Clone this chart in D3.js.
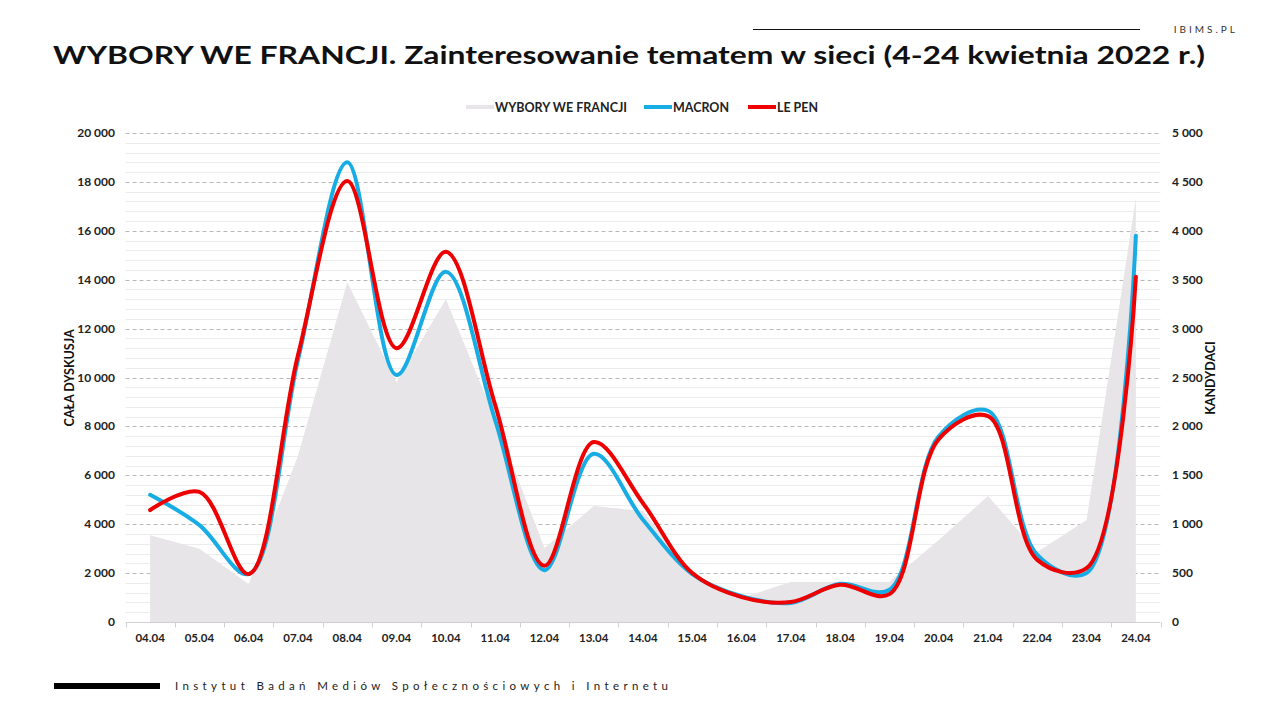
<!DOCTYPE html>
<html><head><meta charset="utf-8">
<script src="https://cdn.jsdelivr.net/npm/d3@7"></script>
<style>
body{margin:0;background:#fff;}
svg{display:block;font-family:Lato, "Open Sans", sans-serif;}
</style></head>
<body>
<svg id="c" width="1280" height="720"></svg>
<script>
const categories = ["04.04","05.04","06.04","07.04","08.04","09.04","10.04","11.04","12.04","13.04","14.04","15.04","16.04","17.04","18.04","19.04","20.04","21.04","22.04","23.04","24.04"];
const wyboryValues = [3550,3000,1550,6800,13900,9800,13200,8300,3030,4740,4540,1960,980,1640,1640,1640,3350,5150,2860,4170,17340];
const macronValues = [1300,990,490,2680,4700,2525,3580,2065,530,1720,1045,490,265,195,390,330,1900,2160,685,500,3950];
const lepenValues = [1145,1330,490,2730,4510,2800,3785,2220,575,1840,1215,500,255,205,380,285,1870,2105,635,550,3530];
const leftTicks = [0,2000,4000,6000,8000,10000,12000,14000,16000,18000,20000];
const rightTicks = [0,500,1000,1500,2000,2500,3000,3500,4000,4500,5000];

const svg = d3.select("#c");
const L = 125.5, R = 1160.5, T = 133, B = 622;
const x = d3.scaleBand().domain(categories).range([L, R]);
const yL = d3.scaleLinear().domain([0,20000]).range([B, T]);
const yR = d3.scaleLinear().domain([0,5000]).range([B, T]);
const cx = d => x(d) + x.bandwidth()/2;
const fmt = v => d3.format(",")(v).replace(/,/g, "\u00a0");

// header
svg.append("line").attr("x1",753).attr("x2",1140).attr("y1",29.5).attr("y2",29.5).attr("stroke","#111").attr("stroke-width",1);
svg.append("text").attr("x",1238).attr("y",33).attr("text-anchor","end").attr("font-size",10).attr("letter-spacing","3px").attr("fill","#333").text("IBIMS.PL");
svg.append("text").attr("x",53).attr("y",64).attr("font-size",25).attr("font-weight",700).attr("fill","#111")
  .attr("textLength",1152).attr("lengthAdjust","spacingAndGlyphs")
  .text("WYBORY WE FRANCJI. Zainteresowanie tematem w sieci (4-24 kwietnia 2022 r.)");

// gridlines
const minor = d3.range(0, 20001, 400).filter(v => v % 2000 !== 0);
svg.append("g").selectAll("line").data(minor).join("line")
  .attr("x1",L).attr("x2",R).attr("y1",d=>Math.round(yL(d))+0.5).attr("y2",d=>Math.round(yL(d))+0.5)
  .attr("stroke","#ececec").attr("stroke-width",1);
svg.append("g").selectAll("line").data(leftTicks.slice(1)).join("line")
  .attr("x1",L).attr("x2",R).attr("y1",d=>Math.round(yL(d))+0.5).attr("y2",d=>Math.round(yL(d))+0.5)
  .attr("stroke","#b8b8b8").attr("stroke-width",1).attr("stroke-dasharray","4,3");

// area
const area = d3.area().x((d,i)=>cx(categories[i])).y0(B).y1(d=>yL(d));
svg.append("path").datum(wyboryValues).attr("d",area).attr("fill","#e7e5e7");

// lines
const line = d3.line().x((d,i)=>cx(categories[i])).y(d=>yR(d)).curve(d3.curveCatmullRom.alpha(0.5));
svg.append("path").datum(macronValues).attr("d",line).attr("fill","none").attr("stroke","#17ade4").attr("stroke-width",4).attr("stroke-linecap","round");
svg.append("path").datum(lepenValues).attr("d",line).attr("fill","none").attr("stroke","#ee0000").attr("stroke-width",4).attr("stroke-linecap","round");

// x axis
const xa = svg.append("g").attr("transform",`translate(0,${B+0.5})`);
xa.append("line").attr("x1",L).attr("x2",R).attr("stroke","#d0d0d0");
const bounds = categories.map(c=>x(c)).concat([R]);
xa.selectAll("line.t").data(bounds).join("line").attr("class","t")
  .attr("x1",d=>Math.round(d)+0.5).attr("x2",d=>Math.round(d)+0.5).attr("y1",0).attr("y2",5).attr("stroke","#d0d0d0");
xa.selectAll("text").data(categories).join("text")
  .attr("x",d=>cx(d)).attr("y",19).attr("text-anchor","middle").attr("font-size",11.5).attr("font-weight",700).attr("fill","#222").text(d=>d);

// y axes labels
svg.append("g").selectAll("text").data(leftTicks).join("text")
  .attr("x",115).attr("y",d=>yL(d)+4).attr("text-anchor","end").attr("font-size",12).attr("font-weight",700).attr("fill","#222").text(fmt);
svg.append("g").selectAll("text").data(rightTicks).join("text")
  .attr("x",1172).attr("y",d=>yR(d)+4).attr("text-anchor","start").attr("font-size",12).attr("font-weight",700).attr("fill","#222").text(fmt);

svg.append("text").attr("transform","translate(74,378) rotate(-90)").attr("text-anchor","middle").attr("font-size",12.5).attr("font-weight",700).attr("fill","#111").text("CAŁA DYSKUSJA");
svg.append("text").attr("transform","translate(1215,378) rotate(-90)").attr("text-anchor","middle").attr("font-size",12.5).attr("font-weight",700).attr("fill","#111").text("KANDYDACI");

// legend
const legend = [
  {name:"WYBORY WE FRANCJI", color:"#e7e5e7", x:466, w:132},
  {name:"MACRON", color:"#17ade4", x:644, w:56},
  {name:"LE PEN", color:"#ee0000", x:748, w:41}
];
const lg = svg.append("g");
legend.forEach(d=>{
  lg.append("rect").attr("x",d.x).attr("y",105).attr("width",28).attr("height",4).attr("fill",d.color);
  lg.append("text").attr("x",d.x+29).attr("y",111.5).attr("font-size",12.5).attr("font-weight",700).attr("fill","#222")
    .attr("textLength",d.w).attr("lengthAdjust","spacingAndGlyphs").text(d.name);
});

// footer
svg.append("rect").attr("x",54).attr("y",683).attr("width",106).attr("height",6).attr("fill","#000");
svg.append("text").attr("x",175).attr("y",690).attr("font-size",11.5).attr("fill","#222")
  .attr("textLength",493).attr("lengthAdjust","spacing")
  .text("Instytut Badań Mediów Społecznościowych i Internetu");
</script>
</body></html>
